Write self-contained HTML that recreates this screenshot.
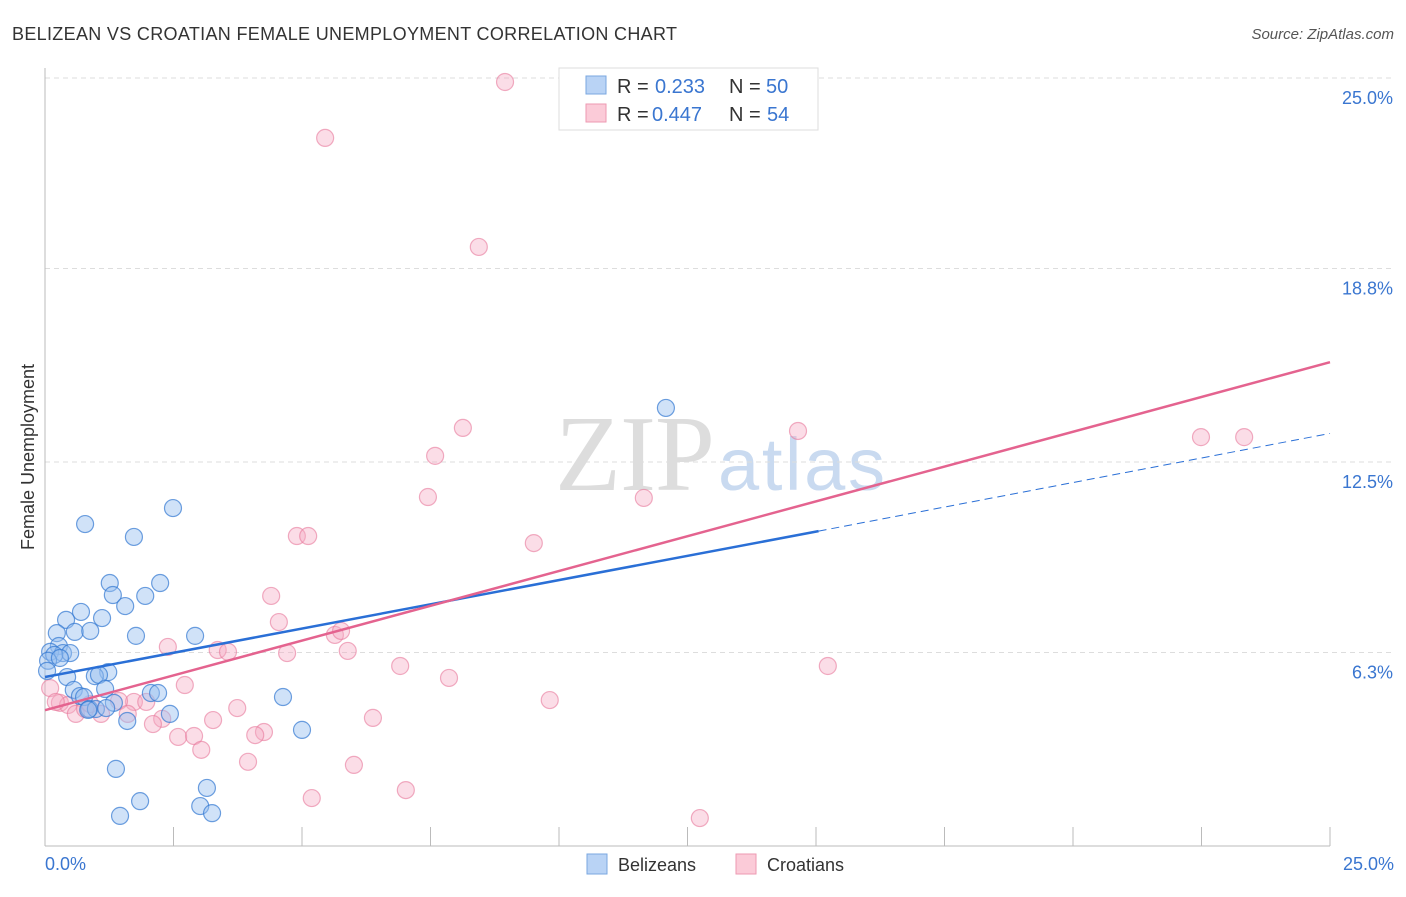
<!DOCTYPE html>
<html><head><meta charset="utf-8"><style>
body{margin:0;background:#fff;font-family:"Liberation Sans",sans-serif}
</style></head><body>
<svg width="1406" height="892" xmlns="http://www.w3.org/2000/svg">
<text x="12" y="40" font-size="18" fill="#333" textLength="665">BELIZEAN VS CROATIAN FEMALE UNEMPLOYMENT CORRELATION CHART</text>
<text x="1394" y="39" font-size="15" fill="#555" font-style="italic" text-anchor="end">Source: ZipAtlas.com</text>
<text x="555" y="490" font-size="108" fill="#ddd" textLength="160" font-family="Liberation Serif">ZIP</text>
<text x="718" y="490" font-size="74" fill="#c9daf0" textLength="167">atlas</text>
<g id="grid"></g>
<line x1="45" y1="68" x2="45" y2="846" stroke="#bbb"/>
<line x1="45" y1="846" x2="1330" y2="846" stroke="#bbb"/>
<text x="34" y="457" font-size="18" fill="#333" transform="rotate(-90 34 457)" text-anchor="middle">Female Unemployment</text>
<text x="45" y="870" font-size="18" fill="#3a76d0">0.0%</text>
<text x="1394" y="870" font-size="18" fill="#3a76d0" text-anchor="end">25.0%</text>
<g id="pts"></g>
<g id="lines"></g>
<g>
<rect x="559" y="68" width="259" height="62" fill="#fff" stroke="#ddd"/>
<rect x="586" y="76" width="20" height="18" fill="#b9d3f5" stroke="#7aa7e0"/>
<rect x="586" y="104" width="20" height="18" fill="#fbcbd8" stroke="#ee9ab2"/>
<text y="93" font-size="20" fill="#333"><tspan x="617">R =</tspan><tspan x="655" fill="#3a76d0">0.233</tspan><tspan x="729">N =</tspan><tspan x="766" fill="#3a76d0">50</tspan></text>
<text y="121" font-size="20" fill="#333"><tspan x="617">R =</tspan><tspan x="652" fill="#3a76d0">0.447</tspan><tspan x="729">N =</tspan><tspan x="767" fill="#3a76d0">54</tspan></text>
</g>
<g>
<rect x="587" y="854" width="20" height="20" fill="#b9d3f5" stroke="#7aa7e0"/>
<text x="618" y="871" font-size="18" fill="#333">Belizeans</text>
<rect x="736" y="854" width="20" height="20" fill="#fbcbd8" stroke="#ee9ab2"/>
<text x="767" y="871" font-size="18" fill="#333">Croatians</text>
</g>
</svg>
<script>
const yTicks=[25.0,18.8,12.5,6.3];
const yTickLabels=["25.0%","18.8%","12.5%","6.3%"];
const xTicks=[2.5,5,7.5,10,12.5,15,17.5,20,22.5,25];
const blueX=[0.78,2.49,1.73,1.26,2.24,1.32,1.95,1.56,0.70,0.41,1.11,0.23,0.58,0.88,1.77,2.92,0.27,0.10,0.35,0.49,0.18,1.23,0.97,1.05,0.43,0.56,1.17,0.68,0.76,2.06,2.20,4.63,1.34,0.86,0.99,2.43,1.60,5.00,1.38,1.85,3.15,3.02,3.25,1.46,12.08,0.06,0.04,0.84,1.19,0.29];
const blueY=[10.48,11.00,10.06,8.56,8.56,8.17,8.14,7.81,7.62,7.36,7.42,6.93,6.97,7.00,6.84,6.84,6.51,6.32,6.28,6.28,6.22,5.66,5.53,5.57,5.50,5.08,5.11,4.88,4.85,4.98,4.98,4.85,4.66,4.46,4.46,4.30,4.07,3.78,2.51,1.46,1.89,1.30,1.07,0.98,14.26,6.03,5.70,4.43,4.49,6.12];
const pinkX=[8.95,5.45,8.44,8.13,7.59,7.45,11.65,9.51,4.90,5.12,14.65,22.49,23.33,4.40,4.55,5.64,5.76,2.39,3.36,3.56,4.71,5.89,6.91,15.23,7.86,2.72,9.82,1.73,1.97,3.74,1.44,0.29,0.45,6.38,0.60,1.09,2.28,2.10,3.27,4.26,4.09,2.59,2.90,3.04,3.95,6.01,7.02,5.19,12.74,0.10,0.21,0.78,1.61,0.88];
const pinkY=[24.87,23.05,19.50,13.61,12.70,11.36,11.33,9.86,10.09,10.09,13.51,13.31,13.31,8.14,7.29,6.87,7.00,6.48,6.38,6.32,6.28,6.35,5.86,5.86,5.47,5.24,4.75,4.69,4.69,4.49,4.72,4.66,4.59,4.17,4.30,4.30,4.14,3.97,4.10,3.71,3.61,3.55,3.58,3.13,2.74,2.64,1.82,1.56,0.91,5.14,4.69,4.46,4.30,4.62];
const blueTrend=[0,5.50,15.05,10.25,25,13.43];
const pinkTrend=[0,4.42,25,15.75];
const ns="http://www.w3.org/2000/svg";
const X=v=>45+v*51.4, Y=v=>846-v*30.72;
function mk(t,a,p){const e=document.createElementNS(ns,t);for(const k in a)e.setAttribute(k,a[k]);p.appendChild(e);return e;}
const grid=document.getElementById('grid');
yTicks.forEach((t,i)=>{
 const l=mk('line',{x1:45,x2:1394,y1:Y(t),y2:Y(t),stroke:'#ddd','stroke-dasharray':'5,4'},grid);
 
 
 const tx=mk('text',{x:1393,y:Y(t)+26,'font-size':18,fill:'#3a76d0','text-anchor':'end'},grid);
 tx.textContent=yTickLabels[i];
 
 
});
xTicks.forEach(t=>{
 const l=mk('line',{x1:X(t),x2:X(t),y1:827,y2:846,stroke:'#bbb'},grid);
 
 
});
const pts=document.getElementById('pts');
pinkX.forEach((v,i)=>{
 const c=mk('circle',{cx:X(v),cy:Y(pinkY[i]),r:8.5,fill:'rgba(246,170,195,0.4)',stroke:'rgba(232,120,155,0.6)','stroke-width':1.2},pts);
 
 
});
blueX.forEach((v,i)=>{
 const c=mk('circle',{cx:X(v),cy:Y(blueY[i]),r:8.5,fill:'rgba(150,190,240,0.45)',stroke:'rgba(50,120,210,0.7)','stroke-width':1.2},pts);
 
 
});
const lines=document.getElementById('lines');
let l=mk('line',{x1:X(blueTrend[0]),y1:Y(blueTrend[1]),x2:X(blueTrend[2]),y2:Y(blueTrend[3]),stroke:'#2a6fd6','stroke-width':2.5},lines);


l=mk('line',{x1:X(blueTrend[2]),y1:Y(blueTrend[3]),x2:X(blueTrend[4]),y2:Y(blueTrend[5]),stroke:'#2a6fd6','stroke-width':1,'stroke-dasharray':'8,5'},lines);


l=mk('line',{x1:X(pinkTrend[0]),y1:Y(pinkTrend[1]),x2:X(pinkTrend[2]),y2:Y(pinkTrend[3]),stroke:'#e4638f','stroke-width':2.5},lines);


</script>
</body></html>
